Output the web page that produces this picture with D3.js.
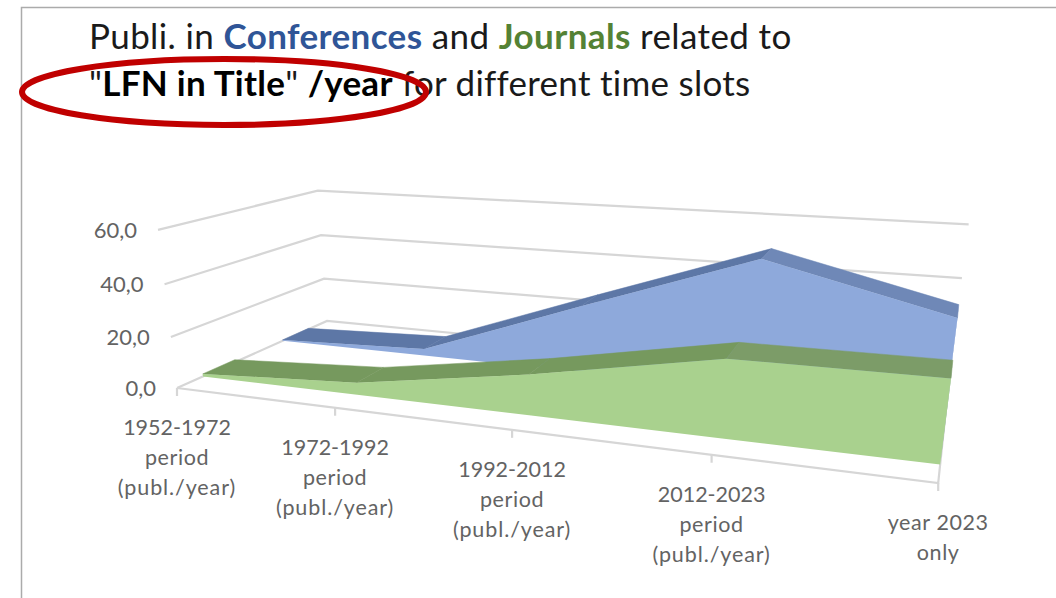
<!DOCTYPE html>
<html><head><meta charset="utf-8">
<script src="https://cdnjs.cloudflare.com/ajax/libs/d3/7.8.5/d3.min.js"></script>
<style>html,body{margin:0;padding:0;background:#fff;overflow:hidden}svg{display:block}</style>
</head><body><svg id="c" width="1056" height="598"></svg>
<script>
const categories = [["1952-1972","period","(publ./year)"],["1972-1992","period","(publ./year)"],["1992-2012","period","(publ./year)"],["2012-2023","period","(publ./year)"],["year 2023","only"]];
const conferences = [0.4, 2.8, 26.5, 49.6, 33.5];
const journals = [1, 4.7, 15, 27.5, 28];
const valueTicks = [0, 20, 40, 60];
const labelFont = "Lato, Carlito, sans-serif";

const svg = d3.select("#c");
const u = d3.scaleLinear().domain([0, categories.length - 1]).range([0, 4]);
const v = d3.scaleLinear().domain([0, 60]).range([0, 60]);
// perspective camera of the 3-D chart box: category u, depth d, value y
function project(i, d, val) {
  const uu = u(i), y = v(val);
  const w = 1 - 0.0534 * uu + 0.2275 * d - 0.0008 * y;
  return [(177 + 140.2 * uu + 224.4 * d - 0.443 * y) / w,
          (388 - 2.04 * uu + 6 * d - 2.82 * y) / w];
}
const poly = d3.line().curve(d3.curveLinearClosed);
const path = d3.line();
const idx = d3.range(categories.length);
const last = categories.length - 1;

// frame
svg.append("path").attr("d", "M21.5,598V7.5H1056").attr("fill", "none").attr("stroke", "#ABABAB").attr("stroke-width", 1.5);

// gridlines
const grid = svg.append("g").attr("fill", "none").attr("stroke", "#D6D6D6").attr("stroke-width", 2.2);
valueTicks.forEach(t => {
  grid.append("path").attr("d", path([project(0, 0, t), project(0, 1, t), project(last, 1, t)]));
});
grid.append("path").attr("d", path([project(0, 0, 0), project(last, 0, 0), project(last, 1, 0)]));
idx.forEach(i => {
  const p = project(i, 0, 0);
  grid.append("path").attr("d", path([p, [p[0], p[1] + 8]]));
});

function ribbon(values, d0, d1, frontCol, capCol, topCols) {
  const g = svg.append("g");
  g.append("path").attr("d", poly([project(last, d0, 0), project(last, d1, 0), project(last, d1, values[last]), project(last, d0, values[last])])).attr("fill", capCol);
  idx.slice(0, -1).forEach(i => {
    g.append("path").attr("d", poly([project(i, d0, values[i]), project(i, d1, values[i]), project(i + 1, d1, values[i + 1]), project(i + 1, d0, values[i + 1])]))
      .attr("fill", topCols[i]).attr("stroke", topCols[i]).attr("stroke-width", 0.5);
  });
  const front = idx.map(i => project(i, d0, values[i])).concat(idx.slice().reverse().map(i => project(i, d0, 0)));
  g.append("path").attr("d", poly(front)).attr("fill", frontCol);
}
ribbon(conferences, 0.66, 0.853, "#8EA9DB", "#7C97CB", ["#5D77A6", "#5D77A6", "#5D77A6", "#6F88B7"]);
ribbon(journals, 0.146, 0.339, "#A9D18E", "#93B0A8", ["#76995E", "#76995E", "#76995E", "#7C9C68"]);

// value labels
const fmt = d3.format(".1f");
svg.append("g").selectAll("text").data(valueTicks).join("text")
  .attr("x", t => project(0, 0, t)[0] - 21).attr("y", t => project(0, 0, t)[1] + 8)
  .attr("text-anchor", "end").attr("font-family", labelFont).attr("font-size", 22).attr("fill", "#636363")
  .text(t => fmt(t).replace(".", ","));

// category labels
const cat = svg.append("g").attr("font-family", labelFont).attr("font-size", 21.5).attr("fill", "#636363").attr("text-anchor", "middle");
categories.forEach((lines, i) => {
  const p = project(i, 0, 0);
  lines.forEach((s, k) => cat.append("text").attr("x", p[0]).attr("y", p[1] + 47 + k * 30)
    .attr("letter-spacing", /^\d/.test(s) ? 0 : (s.length > 9 ? 0.9 : 0.6)).text(s));
});

// title
const title = svg.append("g").attr("font-family", labelFont).attr("font-size", 35).attr("fill", "#1a1a1a");
const t1 = title.append("text").attr("x", 89).attr("y", 49).attr("letter-spacing", 0.38);
t1.append("tspan").text("Publi. in ");
t1.append("tspan").attr("font-weight", 700).attr("fill", "#2F5597").text("Conferences");
t1.append("tspan").text(" and ");
t1.append("tspan").attr("font-weight", 700).attr("fill", "#548235").text("Journals");
t1.append("tspan").text(" related to");
const t2 = title.append("text").attr("x", 89).attr("y", 96).attr("letter-spacing", 0.27);
t2.append("tspan").text('"');
t2.append("tspan").attr("font-weight", 700).attr("fill", "#000").text("LFN in Title");
t2.append("tspan").text('" ');
t2.append("tspan").attr("font-weight", 700).attr("fill", "#000").text("/year");
t2.append("tspan").text(" for different time slots");

// highlight ellipse
svg.append("ellipse").attr("cx", 224).attr("cy", 92).attr("rx", 202).attr("ry", 33)
  .attr("fill", "none").attr("stroke", "#C00000").attr("stroke-width", 6);
</script></body></html>
